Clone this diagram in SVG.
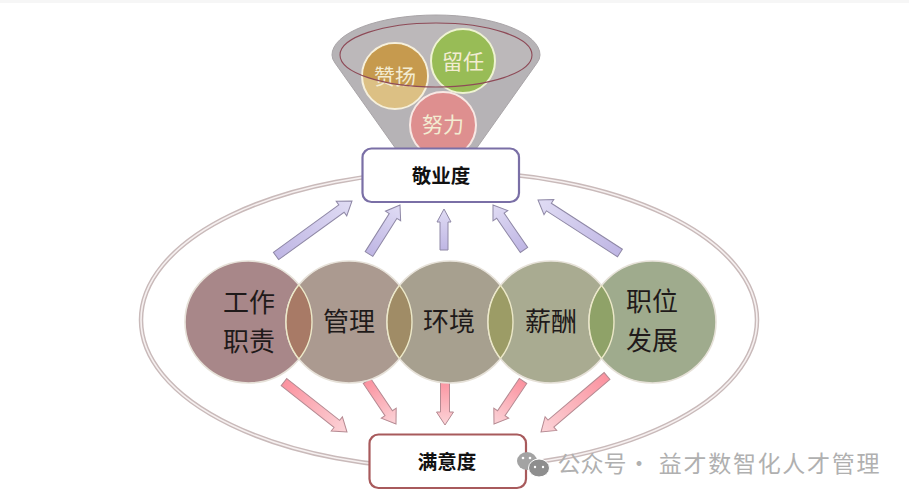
<svg xmlns="http://www.w3.org/2000/svg" width="909" height="499" viewBox="0 0 909 499">
<style>
text{font-family:"Noto Sans CJK SC","Noto Sans",sans-serif;text-anchor:middle}
.big{font-size:26px;fill:#1f1a1a}
.small{font-size:21px;fill:#f3ecd2}
.box{fill:#fff;stroke-width:2.2}
.title{font-size:19.500px;font-weight:700;fill:#111}
.ring{fill:none;stroke:#c9baba;stroke-width:4.500}
.ringin{fill:none;stroke:#f6f0f0;stroke-width:1.600}
.c{stroke:#e6e1d8;stroke-width:1.600}
.lens{stroke:#ece8c8;stroke-width:1.400}
.up{fill:url(#gb);stroke:#8f88a6;stroke-width:1}
.down{fill:url(#gr);stroke:#b58a92;stroke-width:1}
.wm{font-size:23px;fill:#b0b0b0}
</style>
<defs>
<linearGradient id="gb" x1="0" y1="0" x2="1" y2="0"><stop offset="0" stop-color="#bfb6e4"/><stop offset="1" stop-color="#e0dcf4"/></linearGradient>
<linearGradient id="gr" x1="0" y1="0" x2="1" y2="0"><stop offset="0" stop-color="#fb929f"/><stop offset="1" stop-color="#fbd4d8"/></linearGradient>
<clipPath id="cp1"><ellipse cx="248.500" cy="322" rx="63.500" ry="61"/></clipPath>
<clipPath id="cp2"><ellipse cx="349" cy="322" rx="63" ry="61"/></clipPath>
<clipPath id="cp3"><ellipse cx="450" cy="322" rx="63" ry="61"/></clipPath>
<clipPath id="cp4"><ellipse cx="551" cy="322" rx="63" ry="61"/></clipPath>
<clipPath id="cp5"><ellipse cx="652.500" cy="322" rx="63.500" ry="61"/></clipPath>
<clipPath id="rim"><ellipse cx="436" cy="55" rx="96" ry="32"/></clipPath>
</defs>
<rect width="909" height="499" fill="#fff"/>
<rect width="909" height="3" fill="#f6f6f6"/>

<g id="satisfaction-ring">
<ellipse class="ring" cx="449" cy="320" rx="308" ry="148.500"/>
<ellipse class="ringin" cx="449" cy="320" rx="308" ry="148.500"/>
</g>

<g id="funnel">
<path d="M332 55A104 40 0 0 1 540 55Q540 59 537 63L476 149H396L335 63Q332 59 332 55Z" fill="#b6b3b6" stroke="#a9a5a8"/>
<ellipse cx="436" cy="55" rx="96" ry="32" fill="#bcb8ba"/>
</g>
<g id="node-zanyang">
<circle cx="395" cy="76" r="33" fill="#dcc084" stroke="#f6f0dc" stroke-width="2"/>
<circle cx="395" cy="76" r="32" fill="#c69a4e" clip-path="url(#rim)"/>
<text class="small" x="395" y="84">赞扬</text>
</g>
<g id="node-liuren">
<circle cx="463" cy="61" r="32" fill="#98bc56" stroke="#eef3d2" stroke-width="2"/>
<text class="small" x="463" y="69">留任</text>
</g>
<g id="node-nuli">
<circle cx="443" cy="125" r="33" fill="#de8f8f" stroke="#f8e8e4" stroke-width="2"/>
<text class="small" x="443" y="132">努力</text>
</g>
<g id="funnel-rim">
<ellipse cx="436" cy="55" rx="96" ry="32" fill="none" stroke="#8e4a57" stroke-width="1.100"/>
</g>

<g id="connectors">
<polygon class="up" transform="translate(352 201) rotate(-35.900)" points="-93.800,-4.500 -13,-4.500 -13,-9 0,0 -13,9 -13,4.500 -93.800,4.500"/>
<polygon class="up" transform="translate(400 205) rotate(-57.700)" points="-58,-4.500 -13,-4.500 -13,-9 0,0 -13,9 -13,4.500 -58,4.500"/>
<polygon class="up" transform="translate(444 209) rotate(-90)" points="-41,-4 -13,-4 -13,-7 0,0 -13,7 -13,4 -41,4"/>
<polygon class="up" transform="translate(493 205) rotate(-124.600)" points="-54.600,-4.500 -13,-4.500 -13,-9 0,0 -13,9 -13,4.500 -54.600,4.500"/>
<polygon class="up" transform="translate(538 200) rotate(-147.100)" points="-97.600,-4.500 -13,-4.500 -13,-9 0,0 -13,9 -13,4.500 -97.600,4.500"/>
<polygon class="down" transform="translate(347 432) rotate(38.400)" points="-80.400,-4.500 -13,-4.500 -13,-9 0,0 -13,9 -13,4.500 -80.400,4.500"/>
<polygon class="down" transform="translate(396 424) rotate(56)" points="-51.900,-4.500 -13,-4.500 -13,-9 0,0 -13,9 -13,4.500 -51.900,4.500"/>
<polygon class="down" transform="translate(445 425) rotate(90)" points="-45,-4.500 -13,-4.500 -13,-8.500 0,0 -13,8.500 -13,4.500 -45,4.500"/>
<polygon class="down" transform="translate(494 424) rotate(124)" points="-51.900,-4.500 -13,-4.500 -13,-9 0,0 -13,9 -13,4.500 -51.900,4.500"/>
<polygon class="down" transform="translate(541 432) rotate(139.700)" points="-86.600,-4.500 -13,-4.500 -13,-9 0,0 -13,9 -13,4.500 -86.600,4.500"/>
</g>

<g id="node-gongzuo">
<ellipse class="c" cx="248.500" cy="322" rx="63.500" ry="61" fill="#a88789"/>
</g>
<g id="node-guanli">
<ellipse class="c" cx="349" cy="322" rx="63" ry="61" fill="#ab9a90"/>
<ellipse class="lens" cx="349" cy="322" rx="63" ry="61" fill="#a87a66" clip-path="url(#cp1)"/>
<ellipse cx="248.500" cy="322" rx="63.500" ry="61" fill="none" class="lens" clip-path="url(#cp2)"/>
</g>
<g id="node-huanjing">
<ellipse class="c" cx="450" cy="322" rx="63" ry="61" fill="#a7a08f"/>
<ellipse class="lens" cx="450" cy="322" rx="63" ry="61" fill="#a08c66" clip-path="url(#cp2)"/>
<ellipse cx="349" cy="322" rx="63" ry="61" fill="none" class="lens" clip-path="url(#cp3)"/>
</g>
<g id="node-xinchou">
<ellipse class="c" cx="551" cy="322" rx="63" ry="61" fill="#a9ab91"/>
<ellipse class="lens" cx="551" cy="322" rx="63" ry="61" fill="#9c9c66" clip-path="url(#cp3)"/>
<ellipse cx="450" cy="322" rx="63" ry="61" fill="none" class="lens" clip-path="url(#cp4)"/>
</g>
<g id="node-zhiwei">
<ellipse class="c" cx="652.500" cy="322" rx="63.500" ry="61" fill="#9fab8d"/>
<ellipse class="lens" cx="652.500" cy="322" rx="63.500" ry="61" fill="#8fa268" clip-path="url(#cp4)"/>
<ellipse cx="551" cy="322" rx="63" ry="61" fill="none" class="lens" clip-path="url(#cp5)"/>
</g>
<g id="labels-circles">
<text class="big" x="249" y="312">工作</text>
<text class="big" x="249" y="351">职责</text>
<text class="big" x="349" y="331">管理</text>
<text class="big" x="449" y="331">环境</text>
<text class="big" x="551" y="331">薪酬</text>
<text class="big" x="652" y="311">职位</text>
<text class="big" x="652" y="350">发展</text>
</g>

<g id="node-jingye">
<rect class="box" x="362.500" y="148.500" width="156.500" height="53.500" rx="9" stroke="#7a6fa6"/>
<text class="title" x="441" y="183">敬业度</text>
</g>
<g id="node-manyi">
<rect class="box" x="369.500" y="434.500" width="156.500" height="53.500" rx="9" stroke="#a85a5c"/>
<text class="title" x="447" y="469">满意度</text>
</g>

<g id="watermark">
<ellipse cx="527" cy="461" rx="10" ry="9" fill="#a3a3a3"/>
<ellipse cx="539" cy="468" rx="10.500" ry="9" fill="#8e8e8e" stroke="#fff"/>
<circle cx="523" cy="458" r="1.300" fill="#fff"/>
<circle cx="530" cy="458" r="1.300" fill="#fff"/>
<circle cx="535" cy="467" r="1.200" fill="#fff"/>
<circle cx="543" cy="467" r="1.200" fill="#fff"/>
<text class="wm" x="592" y="472">公众号</text>
<text class="wm" x="639" y="472">·</text>
<text class="wm" x="770" y="472" letter-spacing="1.700">益才数智化人才管理</text>
</g>
</svg>
